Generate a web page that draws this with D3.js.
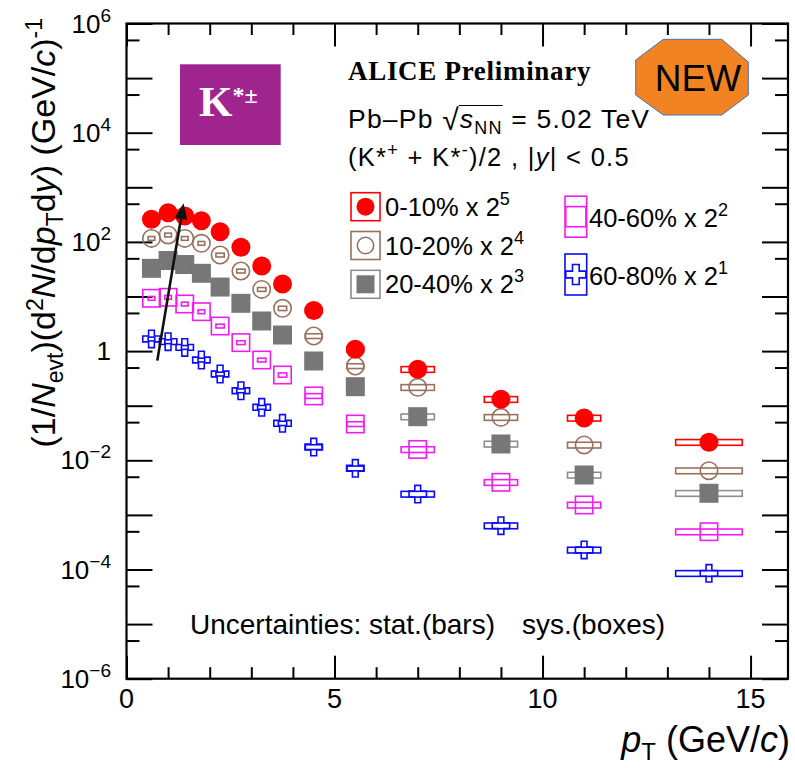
<!DOCTYPE html>
<html>
<head>
<meta charset="utf-8">
<script src="https://cdn.jsdelivr.net/npm/d3@7"></script>
<style>
  body { margin: 0; background: #fff; }
  text { font-family: "Liberation Sans", Arial, sans-serif; fill: #000; }
  text.serif { font-family: "Liberation Serif", "Times New Roman", serif; font-weight: bold; }
</style>
</head>
<body>
<svg id="chart" width="795" height="768"></svg>
<script>
// pT bin centres and widths (GeV/c)
const ptCenters = [0.6, 1.0, 1.4, 1.8, 2.25, 2.75, 3.25, 3.75, 4.5, 5.5, 7, 9, 11, 14];
const ptBinWidths = [0.4, 0.4, 0.4, 0.4, 0.5, 0.5, 0.5, 0.5, 1, 1, 2, 2, 2, 4];
// relative systematic uncertainty per bin
const sysRel = [0.08, 0.08, 0.08, 0.08, 0.08, 0.08, 0.08, 0.09, 0.1, 0.1, 0.12, 0.12, 0.12, 0.12];

// scaled yields (1/Nevt) d2N/(dpT dy)
const yield0_10  = [259, 343, 298, 244, 154, 79.6, 36.2, 16.9, 5.54, 1.08, 0.464, 0.131, 0.0595, 0.0214];
const yield10_20 = [116, 134, 116, 94.3, 57.5, 29.3, 13.5, 6.08, 1.89, 0.533, 0.217, 0.0613, 0.0191, 0.00645];
const yield20_40 = [32.8, 45.6, 38.5, 26.6, 14.9, 7.5, 3.56, 1.97, 0.659, 0.223, 0.0629, 0.0199, 0.00538, 0.00249];
const yield40_60 = [9.27, 9.67, 7.29, 5.27, 2.88, 1.43, 0.687, 0.365, 0.151, 0.0462, 0.0158, 0.00395, 0.00152, 0.000492];
const yield60_80 = [1.67, 1.49, 1.17, 0.687, 0.381, 0.188, 0.0935, 0.0476, 0.0175, 0.00713, 0.00241, 0.000634, 0.000228, 0.0000851];

const centralityLabels = ["0-10%", "10-20%", "20-40%", "40-60%", "60-80%"];
const scaleExponents = [5, 4, 3, 2, 1];

const yLabelExponents = [-6, -4, -2, 0, 2, 4, 6];
const xLabelValues = [0, 5, 10, 15];

const series = [
  { label: centralityLabels[0], exp: scaleExponents[0], values: yield0_10,  color: "#ff0000", box: "#ff0000", marker: "circleFilled" },
  { label: centralityLabels[1], exp: scaleExponents[1], values: yield10_20, color: "#98705e", box: "#98705e", marker: "circleOpen" },
  { label: centralityLabels[2], exp: scaleExponents[2], values: yield20_40, color: "#777777", box: "#8e8e8e", marker: "squareFilled" },
  { label: centralityLabels[3], exp: scaleExponents[3], values: yield40_60, color: "#f01cf0", box: "#f01cf0", marker: "squareOpen" },
  { label: centralityLabels[4], exp: scaleExponents[4], values: yield60_80, color: "#0a0aff", box: "#0a0aff", marker: "crossOpen" }
];

const svg = d3.select("#chart");

const x = d3.scaleLinear().domain([0, 15.9]).range([126.5, 788]);
const y = d3.scaleLog().domain([1e-6, 1e6]).range([678.7, 23.5]);

const [x0, x1] = x.range();
const [yb, yt] = y.range();

// ---- axes (ticks point inward on all four sides) ----
const xMajor = [0, 5, 10, 15];
const xMinor = d3.range(1, 16).filter(v => v % 5 !== 0);
const decades = d3.range(-6, 7).map(e => Math.pow(10, e));
const halfDecades = d3.range(-6, 6).map(e => 5 * Math.pow(10, e));

function axisGroup(axis, tx, ty) {
  const g = svg.append("g").attr("transform", `translate(${tx},${ty})`).call(axis);
  g.select(".domain").remove();
  g.selectAll(".tick line").attr("stroke", "#000").attr("stroke-width", 2);
  g.selectAll(".tick text").remove();
  return g;
}

axisGroup(d3.axisBottom(x).tickValues(xMajor).tickSizeInner(-23).tickSizeOuter(0), 0, yb);
axisGroup(d3.axisBottom(x).tickValues(xMinor).tickSizeInner(-11.5).tickSizeOuter(0), 0, yb);
axisGroup(d3.axisTop(x).tickValues(xMajor).tickSizeInner(-23).tickSizeOuter(0), 0, yt);
axisGroup(d3.axisTop(x).tickValues(xMinor).tickSizeInner(-11.5).tickSizeOuter(0), 0, yt);
axisGroup(d3.axisLeft(y).tickValues(decades).tickSizeInner(-26).tickSizeOuter(0), x0, 0);
axisGroup(d3.axisLeft(y).tickValues(halfDecades).tickSizeInner(-13).tickSizeOuter(0), x0, 0);
axisGroup(d3.axisRight(y).tickValues(decades).tickSizeInner(-26).tickSizeOuter(0), x1, 0);
axisGroup(d3.axisRight(y).tickValues(halfDecades).tickSizeInner(-13).tickSizeOuter(0), x1, 0);

svg.append("rect")
  .attr("x", x0).attr("y", yt)
  .attr("width", x1 - x0).attr("height", yb - yt)
  .attr("fill", "none").attr("stroke", "#000").attr("stroke-width", 2.2);

// tick labels
svg.append("g").selectAll("text").data(xLabelValues).join("text")
  .attr("x", d => x(d)).attr("y", 708)
  .attr("text-anchor", "middle").attr("font-size", 27)
  .text(d => d);

const yl = svg.append("g").selectAll("text").data(yLabelExponents).join("text")
  .attr("x", 111).attr("y", d => y(Math.pow(10, d)) + 9)
  .attr("text-anchor", "end").attr("font-size", 26);
yl.each(function (d) {
  const t = d3.select(this);
  if (d === 0) { t.text("1"); return; }
  t.append("tspan").text("10");
  t.append("tspan").attr("dy", -11).attr("font-size", 19).text(d < 0 ? "\u2212" + (-d) : d);
});

// axis titles
const xt = svg.append("text").attr("x", 790).attr("y", 752)
  .attr("text-anchor", "end").attr("font-size", 36);
xt.append("tspan").attr("font-style", "italic").text("p");
xt.append("tspan").attr("font-size", 24).attr("dy", 8).text("T");
xt.append("tspan").attr("dy", -8).text(" (GeV/");
xt.append("tspan").attr("font-style", "italic").text("c");
xt.append("tspan").text(")");

const ytl = svg.append("text")
  .attr("transform", "translate(55,18) rotate(-90)")
  .attr("text-anchor", "end").attr("font-size", 34);
ytl.append("tspan").text("(1/");
ytl.append("tspan").attr("font-style", "italic").text("N");
ytl.append("tspan").attr("font-size", 23).attr("dy", 8).text("evt");
ytl.append("tspan").attr("dy", -8).text(")(d");
ytl.append("tspan").attr("font-size", 23).attr("dy", -12).text("2");
ytl.append("tspan").attr("dy", 12).attr("font-style", "italic").text("N");
ytl.append("tspan").text("/d");
ytl.append("tspan").attr("font-style", "italic").text("p");
ytl.append("tspan").attr("font-size", 23).attr("dy", 8).text("T");
ytl.append("tspan").attr("dy", -8).text("d");
ytl.append("tspan").attr("font-style", "italic").text("y");
ytl.append("tspan").text(") (GeV/");
ytl.append("tspan").attr("font-style", "italic").text("c");
ytl.append("tspan").text(")");
ytl.append("tspan").attr("font-size", 23).attr("dy", -13).text("-1");

// ---- markers ----
const MS = 19;
function drawMarker(g, type, cx, cy, color, size) {
  const s = size || MS;
  if (type === "circleFilled") {
    g.append("circle").attr("cx", cx).attr("cy", cy).attr("r", s / 2).attr("fill", color);
  } else if (type === "circleOpen") {
    g.append("circle").attr("cx", cx).attr("cy", cy).attr("r", s / 2 - 0.8)
      .attr("fill", "none").attr("stroke", color).attr("stroke-width", 1.6);
  } else if (type === "squareFilled") {
    g.append("rect").attr("x", cx - s / 2).attr("y", cy - s / 2).attr("width", s).attr("height", s).attr("fill", color);
  } else if (type === "squareOpen") {
    g.append("rect").attr("x", cx - s / 2 + 0.8).attr("y", cy - s / 2 + 0.8).attr("width", s - 1.6).attr("height", s - 1.6)
      .attr("fill", "none").attr("stroke", color).attr("stroke-width", 1.6);
  } else if (type === "crossOpen") {
    g.append("path").attr("transform", `translate(${cx},${cy})`)
      .attr("d", d3.symbol(d3.symbolCross, (s - 1.6) * (s - 1.6) * 5 / 9)())
      .attr("fill", "none").attr("stroke", color).attr("stroke-width", 1.6);
  }
}

// draw the most peripheral class first so central points sit on top
const plot = svg.append("g");
series.slice().reverse().forEach(s => {
  const g = plot.append("g");
  s.values.forEach((v, i) => {
    const bw = 0.4 * ptBinWidths[i];
    const xa = x(ptCenters[i] - bw / 2), xb = x(ptCenters[i] + bw / 2);
    const ya = y(v * (1 + sysRel[i])), yb2 = y(v * (1 - sysRel[i]));
    g.append("rect")
      .attr("x", xa).attr("y", ya)
      .attr("width", xb - xa).attr("height", yb2 - ya)
      .attr("fill", "none").attr("stroke", s.box).attr("stroke-width", 1.6);
  });
  s.values.forEach((v, i) => drawMarker(g, s.marker, x(ptCenters[i]), y(v), s.color));
});

// ---- arrow ----
const arrowFrom = [0.74, 0.67], arrowTo = [1.37, 510];
const ax0 = x(arrowFrom[0]), ay0 = y(arrowFrom[1]), ax1 = x(arrowTo[0]), ay1 = y(arrowTo[1]);
const ang = Math.atan2(ay1 - ay0, ax1 - ax0);
const hl = 16, hw = 6.5;
const bx = ax1 - hl * Math.cos(ang), by = ay1 - hl * Math.sin(ang);
svg.append("line").attr("x1", ax0).attr("y1", ay0).attr("x2", bx).attr("y2", by)
  .attr("stroke", "#111").attr("stroke-width", 2.6);
svg.append("path")
  .attr("d", `M${ax1},${ay1} L${bx + hw * Math.sin(ang)},${by - hw * Math.cos(ang)} L${bx - hw * Math.sin(ang)},${by + hw * Math.cos(ang)} Z`)
  .attr("fill", "#111");

// ---- legend ----
const legend = svg.append("g");
series.slice(0, 3).forEach((s, i) => {
  const cy = 206.7 + i * 38.8;
  legend.append("rect").attr("x", 351).attr("y", cy - 14).attr("width", 29).attr("height", 28)
    .attr("fill", "none").attr("stroke", s.box).attr("stroke-width", 1.6);
  drawMarker(legend, s.marker, 365.5, cy, s.color, 18);
  const t = legend.append("text").attr("x", 385).attr("y", cy + 9).attr("font-size", 25.5);
  t.append("tspan").text(`${s.label} x 2`);
  t.append("tspan").attr("dy", -11).attr("font-size", 18).text(s.exp);
});
series.slice(3).forEach((s, i) => {
  const cy = 216.7 + i * 57.8;
  legend.append("rect").attr("x", 565).attr("y", cy - 20.5).attr("width", 21.7).attr("height", 41)
    .attr("fill", "none").attr("stroke", s.box).attr("stroke-width", 1.6);
  drawMarker(legend, s.marker, 575.85, cy, s.color, 21.7);
  const t = legend.append("text").attr("x", 589).attr("y", cy + 10).attr("font-size", 25.5);
  t.append("tspan").text(`${s.label} x 2`);
  t.append("tspan").attr("dy", -11).attr("font-size", 18).text(s.exp);
});

// ---- header texts ----
svg.append("text").attr("class", "serif").attr("x", 348).attr("y", 80)
  .attr("font-size", 27).attr("letter-spacing", 0.7)
  .text("ALICE Preliminary");

const sys = svg.append("text").attr("x", 348).attr("y", 127.5)
  .attr("font-size", 26.5).attr("letter-spacing", 1.2);
sys.append("tspan").text("Pb\u2013Pb ");
sys.append("tspan").attr("font-size", 30).attr("dy", 2).text("\u221A");
sys.append("tspan").attr("dy", -2).attr("font-style", "italic").text("s");
sys.append("tspan").attr("font-size", 18).attr("dy", 6).text("NN");
sys.append("tspan").attr("dy", -6).text(" = 5.02 TeV");
// overline of the square root, spanning s_NN
{
  const node = sys.node();
  const xa = node.getEndPositionOfChar(6).x;
  const xb = node.getEndPositionOfChar(9).x;
  svg.append("line").attr("x1", xa - 1).attr("x2", xb).attr("y1", 105.5).attr("y2", 105.5)
    .attr("stroke", "#000").attr("stroke-width", 1.2);
}

const prt = svg.append("text").attr("x", 348).attr("y", 166)
  .attr("font-size", 25.5).attr("letter-spacing", 1.3);
prt.append("tspan").text("(K*");
prt.append("tspan").attr("font-size", 18).attr("dy", -10).text("+");
prt.append("tspan").attr("dy", 10).text(" + K*");
prt.append("tspan").attr("font-size", 18).attr("dy", -10).text("-");
prt.append("tspan").attr("dy", 10).text(")/2 , |");
prt.append("tspan").attr("font-style", "italic").text("y");
prt.append("tspan").text("| < 0.5");

svg.append("text").attr("x", 190).attr("y", 634).attr("font-size", 28)
  .text("Uncertainties: stat.(bars)");
svg.append("text").attr("x", 522).attr("y", 634).attr("font-size", 28)
  .text("sys.(boxes)");

// ---- particle badge ----
svg.append("rect").attr("x", 180).attr("y", 64.3).attr("width", 100.7).attr("height", 80.7)
  .attr("fill", "#a0248e");
const kt = svg.append("text").attr("class", "serif").attr("x", 199).attr("y", 116)
  .attr("font-size", 43).style("fill", "#fff");
kt.append("tspan").text("K");
kt.append("tspan").attr("font-size", 24).attr("dy", -13).text("*\u00B1");

// ---- NEW badge ----
svg.append("polygon")
  .attr("points", "663.3,39.3 721.7,39.3 748.3,62 748.3,95 721.7,115 663.3,115 635.7,95 635.7,60")
  .attr("fill", "#f28322").attr("stroke", "#4a70b8").attr("stroke-width", 1);
svg.append("text").attr("x", 698).attr("y", 91).attr("text-anchor", "middle")
  .attr("font-size", 37).text("NEW");
</script>
</body>
</html>
